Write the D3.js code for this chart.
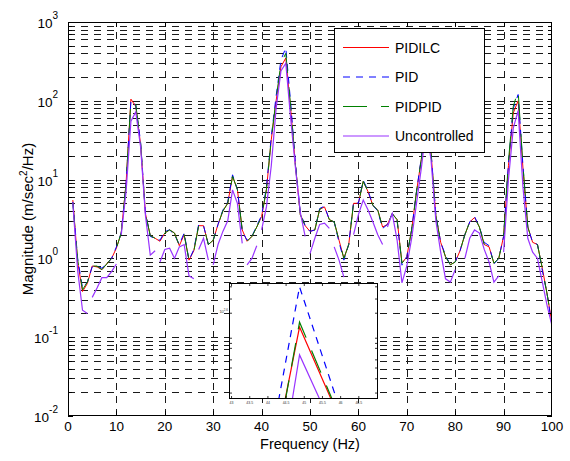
<!DOCTYPE html>
<html><head><meta charset="utf-8">
<script src="https://cdn.jsdelivr.net/npm/d3@7"></script>
<style>body{margin:0;background:#fff}svg{display:block;font-family:"Liberation Sans",Arial,sans-serif}</style>
</head><body><svg id="c" width="570" height="461"></svg>
<script>
// ---------------- data ----------------
const frequency = d3.range(1, 101); // Hz, 1 Hz resolution
const pidilc = [5.5,0.9,0.38,0.48,0.8,0.78,0.72,0.85,1.0,1.35,
  2.1,9,105,85,28,3.7,1.95,1.8,1.65,2.1,
  2.3,2.1,1.45,2.0,0.95,1.25,2.6,2.6,1.5,1.7,
  2.7,4.0,5.0,11,7.5,2.3,1.65,1.9,2.5,3.4,
  7.5,32,100,270,350,80,15,3.6,2.6,2.2,
  2.3,4.2,4.5,3.1,2.9,1.7,1.0,1.5,5.0,5.0,
  9.5,7.0,4.7,4.1,2.5,2.7,3.7,3.1,0.87,1.05,
  2.3,7,18,60,22,3.5,1.6,1.05,0.83,0.9,
  1.25,2.0,2.9,3.3,2.5,1.5,1.4,0.87,1.0,1.9,
  15,70,100,14,2.5,1.6,1.5,0.75,0.35,0.15];
const pid = [5.2,1.0,0.42,0.5,0.78,0.8,0.75,0.85,1.0,1.4,
  2.1,9,100,88,30,3.8,1.9,1.8,1.7,2.2,
  2.3,2.0,1.5,2.1,0.95,1.3,2.7,2.6,1.5,1.7,
  2.7,4.1,5.2,11.5,7.5,2.2,1.7,1.9,2.6,3.5,
  8,35,115,330,470,95,16,3.8,2.6,2.2,
  2.3,4.3,4.6,3.1,2.9,1.6,0.95,1.5,5.2,5.0,
  9.8,7.2,4.7,4.0,2.4,2.7,3.7,3.0,0.82,1.05,
  2.3,7,19,62,23,3.6,1.6,1.1,0.82,0.9,
  1.25,2.0,2.9,3.4,2.5,1.6,1.45,0.85,1.0,1.9,
  16,80,120,15,2.5,1.6,1.5,0.7,0.35,0.14];
const pidpid = [5.0,0.95,0.4,0.5,0.8,0.8,0.72,0.85,1.0,1.35,
  2.1,9,100,90,29,3.7,1.95,1.8,1.65,2.1,
  2.3,2.1,1.45,2.0,0.95,1.25,2.6,2.6,1.5,1.7,
  2.7,4.0,5.0,11,7.5,2.3,1.65,1.9,2.5,3.4,
  7.5,33,105,300,400,85,15,3.6,2.6,2.2,
  2.3,4.2,4.5,3.1,2.9,1.7,1.0,1.5,5.0,5.0,
  9.5,7.0,4.7,4.1,2.5,2.7,3.7,3.1,0.87,1.05,
  2.3,7,18,62,22,3.5,1.6,1.05,0.83,0.9,
  1.25,2.0,2.9,3.3,2.5,1.5,1.4,0.87,1.0,1.9,
  17,85,135,15,2.5,1.6,1.5,0.75,0.35,0.15];
const uncontrolled = [5.0,0.7,0.22,0.2,0.32,0.42,0.57,0.57,0.68,0.85,
  2.0,7,55,72,26,3.5,1.1,1.25,0.9,1.3,
  1.35,1.0,1.4,1.5,0.6,0.55,1.3,1.8,0.95,0.83,
  1.5,2.2,3.0,7.4,5,1.55,0.83,1.0,1.45,2.3,
  4.5,15,80,240,300,60,14,3.8,1.9,1.15,
  1.8,2.7,2.8,2.4,1.4,0.95,0.58,1.0,2.0,3.6,
  5.5,4.1,2.9,2.0,1.5,2.5,3.7,1.7,0.49,0.8,
  1.8,5,14,45,18,3,1.2,0.55,0.5,0.72,
  0.8,1.0,1.8,2.3,2.1,1.3,0.9,0.5,0.6,1.2,
  10,45,75,8,1.8,1.2,1.0,0.5,0.25,0.14];
// segments (from f to f+1) where the Uncontrolled trace is broken in the figure
const uncontrolledBreaks = [4,10,18,26,29,36,39,49,54,57,58,65,80,81,89];

const seriesNames = ["PIDILC","PID","PIDPID","Uncontrolled"];
const seriesColors = ["#ff0000","#0000ff","#008000","#9933ff"];
const seriesDash = [null,"7,6","24,14",null];

const xTicks = [0,10,20,30,40,50,60,70,80,90,100];
const yDecades = [0.01,0.1,1,10,100,1000];
const yExponents = ["-2","-1","0","1","2","3"];

// inset (zoom around the 45 Hz peak)
const insetFreq = [43.9,44.87,45.85];
const insetPidilc = [86,352,184];
const insetPid = [106,485,205];
const insetPidpid = [78,366,187];
const insetUncontrolled = [50,282,151];
const insetXTicks = [43,43.5,44,44.5,45,45.5,46,46.5];
const insetYTicks = [208,233,254,271,297,309,322,393,440,485];

// ---------------- drawing ----------------
const svg = d3.select("#c");
svg.append("rect").attr("width",570).attr("height",461).attr("fill","#fff");
const L=68,R=552,T=22,B=416;
const x = d3.scaleLinear().domain([0,100]).range([L,R]);
const y = d3.scaleLog().domain([0.01,1000]).range([B,T]);
const px = v => Math.round(v)+0.5;

// minor values
const yMinor = [];
yDecades.slice(0,-1).forEach(d => { for (let m=2;m<=9;m++) yMinor.push(d*m); });

// grid
const grid = svg.append("g").attr("stroke","#1a1a1a").attr("stroke-width",1).attr("stroke-dasharray","7,6");
xTicks.slice(1,-1).forEach(t => grid.append("line").attr("x1",px(x(t))).attr("x2",px(x(t))).attr("y1",B).attr("y2",T));
yDecades.slice(1,-1).concat(yMinor).forEach(v => grid.append("line").attr("x1",L).attr("x2",R).attr("y1",px(y(v))).attr("y2",px(y(v))));

// clip
svg.append("clipPath").attr("id","pc").append("rect").attr("x",L).attr("y",T).attr("width",R-L).attr("height",B-T);
const lineGen = d3.line().x(d=>x(d[0])).y(d=>y(d[1]));
const curves = svg.append("g").attr("clip-path","url(#pc)").attr("fill","none");
const allSeries = [pidilc,pid,pidpid,uncontrolled];
allSeries.forEach((vals,i) => {
  const pts = frequency.map((f,k)=>[f,vals[k]]);
  let runs = [[pts[0]]];
  for (let k=1;k<pts.length;k++){
    if (i===3 && uncontrolledBreaks.includes(pts[k-1][0])) runs.push([pts[k]]);
    else runs[runs.length-1].push(pts[k]);
  }
  runs.filter(r=>r.length>1).forEach(r => {
    curves.append("path").attr("d",lineGen(r)).attr("stroke",seriesColors[i])
      .attr("stroke-width", i===3?1.2:1).attr("stroke-dasharray",seriesDash[i]);
  });
});

// axes box & ticks
const ax = svg.append("g").attr("stroke","#000").attr("stroke-width",1);
ax.append("rect").attr("x",L+0.5).attr("y",T+0.5).attr("width",R-L-1).attr("height",B-T-1).attr("fill","none");
xTicks.slice(1,-1).forEach(t => {
  ax.append("line").attr("x1",px(x(t))).attr("x2",px(x(t))).attr("y1",B).attr("y2",B-5);
  ax.append("line").attr("x1",px(x(t))).attr("x2",px(x(t))).attr("y1",T).attr("y2",T+5);
});
yDecades.concat(yMinor).forEach(v => {
  const len = yDecades.includes(v)?5:4;
  ax.append("line").attr("x1",L).attr("x2",L+len).attr("y1",px(y(v))).attr("y2",px(y(v)));
  ax.append("line").attr("x1",R).attr("x2",R-len).attr("y1",px(y(v))).attr("y2",px(y(v)));
});

// tick labels
const lab = svg.append("g").attr("fill","#000").attr("font-size",13.5);
xTicks.forEach(t => lab.append("text").attr("x",x(t)).attr("y",431).attr("text-anchor","middle").text(t));
yDecades.forEach((v,i) => {
  const tx = lab.append("text").attr("x",58).attr("y",y(v)+6).attr("text-anchor","end");
  tx.append("tspan").text("10");
  tx.append("tspan").attr("dy",-9).attr("font-size",10).text(yExponents[i]);
});

// axis titles
svg.append("text").attr("x",310).attr("y",448.5).attr("text-anchor","middle").attr("font-size",14.5).text("Frequency (Hz)");
const yt = svg.append("text").attr("transform","translate(33,219) rotate(-90)").attr("text-anchor","middle").attr("font-size",15);
yt.append("tspan").text("Magnitude (m/sec");
yt.append("tspan").attr("dy",-6).attr("font-size",10).text("2");
yt.append("tspan").attr("dy",6).text("/Hz)");

// legend
const lg = svg.append("g");
lg.append("rect").attr("x",334.5).attr("y",28.5).attr("width",150).attr("height",124).attr("fill","#fff").attr("stroke","#000");
seriesNames.forEach((n,i) => {
  const yy = 47.5 + i*29.5;
  lg.append("line").attr("x1",343).attr("x2",389).attr("y1",yy).attr("y2",yy).attr("stroke",seriesColors[i])
    .attr("stroke-width", i===3?1.2:1).attr("stroke-dasharray",seriesDash[i]);
  lg.append("text").attr("x",395).attr("y",yy+5).attr("font-size",14).text(n);
});

// inset
const IL=229,IR=377,IT=283,IB=398;
const ix = d3.scaleLinear().domain([42.93,47.0]).range([IL,IR]);
const iy = d3.scaleLog().domain([200,500]).range([IB,IT]);
const ins = svg.append("g");
ins.append("rect").attr("x",IL+0.5).attr("y",IT+0.5).attr("width",IR-IL).attr("height",IB-IT).attr("fill","#fff").attr("stroke","#000");
svg.append("clipPath").attr("id","ic").append("rect").attr("x",IL).attr("y",IT).attr("width",IR-IL).attr("height",IB-IT);
const ilg = d3.line().x(d=>ix(d[0])).y(d=>iy(d[1]));
const ic = ins.append("g").attr("clip-path","url(#ic)").attr("fill","none");
[insetPidilc,insetPid,insetPidpid,insetUncontrolled].forEach((vals,i) => {
  ic.append("path").attr("d",ilg(insetFreq.map((f,k)=>[f,vals[k]]))).attr("stroke",seriesColors[i])
    .attr("stroke-width",1.2).attr("stroke-dasharray",seriesDash[i]);
});
const it = ins.append("g").attr("stroke","#000").attr("stroke-width",0.8);
insetXTicks.forEach(t => {
  it.append("line").attr("x1",ix(t)).attr("x2",ix(t)).attr("y1",IB).attr("y2",IB-2);
  it.append("line").attr("x1",ix(t)).attr("x2",ix(t)).attr("y1",IT+1).attr("y2",IT+3);
});
insetYTicks.forEach(v => {
  it.append("line").attr("x1",IL+1).attr("x2",IL+3).attr("y1",iy(v)).attr("y2",iy(v));
  it.append("line").attr("x1",IR).attr("x2",IR-2).attr("y1",iy(v)).attr("y2",iy(v));
});
insetXTicks.forEach(t => ins.append("text").attr("x",ix(t)).attr("y",404).attr("text-anchor","middle").attr("font-size",3.5).attr("fill","#333").text(t));
const iyl = ins.append("text").attr("x",IL-1).attr("y",iy(398)+1).attr("text-anchor","end").attr("font-size",4).attr("fill","#333");
iyl.append("tspan").text("10");
iyl.append("tspan").attr("dy",-1.5).attr("font-size",3).text("2.6");
</script></body></html>
